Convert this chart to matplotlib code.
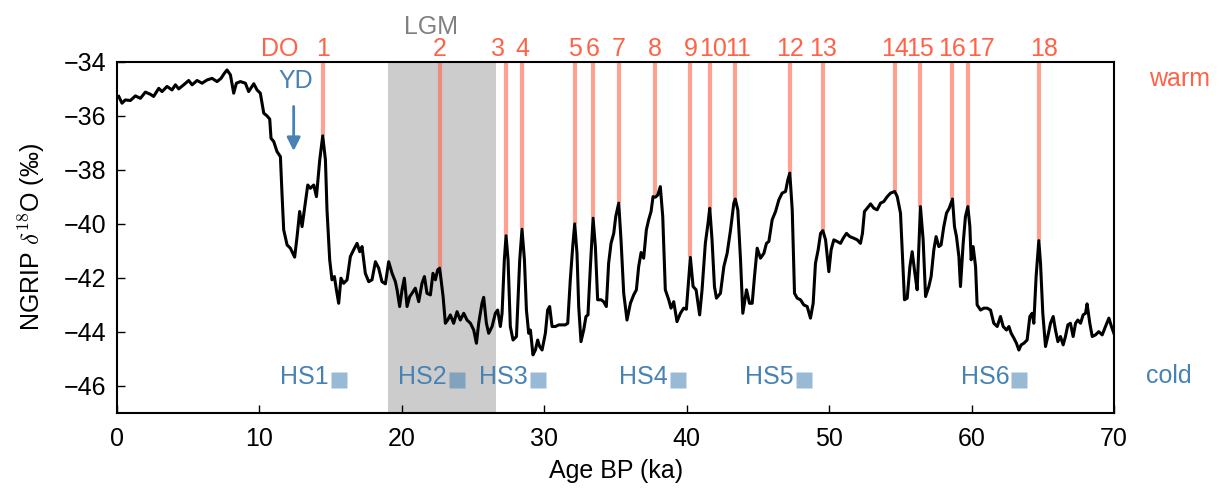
import numpy as np
import matplotlib
matplotlib.use('Agg')
import matplotlib.pyplot as plt
import matplotlib.transforms as mtransforms

plt.rcParams['font.family'] = ['Liberation Sans', 'DejaVu Sans']
plt.rcParams['mathtext.fontset'] = 'cm'
plt.rcParams['font.size'] = 18

# NGRIP d18O record (age in ka, value in permil)
age = [0.12, 0.35, 0.58, 0.94, 1.29, 1.64, 1.99, 2.34, 2.57, 2.93, 3.16, 3.51, 3.86, 4.10,
       4.33, 4.68, 5.03, 5.27, 5.62, 5.97, 6.32, 6.67, 7.02, 7.30, 7.54, 7.72, 7.96, 8.19,
       8.38, 8.66, 9.01, 9.24, 9.60, 9.83, 10.06, 10.30, 10.53, 10.72, 10.81, 11.00, 11.23,
       11.47, 11.58, 11.70, 11.94, 12.17, 12.47, 12.64, 12.82, 12.99, 13.22, 13.39, 13.57,
       13.81, 14.00, 14.23, 14.44, 14.63, 14.74, 14.93, 15.09, 15.26, 15.40, 15.56, 15.72,
       15.91, 16.15, 16.38, 16.61, 16.85, 17.04, 17.20, 17.43, 17.67, 17.90, 18.14, 18.37,
       18.60, 18.84, 19.07, 19.31, 19.54, 19.66, 19.84, 20.01, 20.17, 20.36, 20.55, 20.71,
       20.94, 21.18, 21.41, 21.58, 21.76, 22.00, 22.18, 22.35, 22.51, 22.65, 22.89, 23.05,
       23.21, 23.40, 23.63, 23.87, 24.10, 24.34, 24.57, 24.81, 25.04, 25.23, 25.39, 25.62,
       25.74, 25.93, 26.09, 26.33, 26.56, 26.72, 26.91, 27.03, 27.19, 27.31, 27.45, 27.61,
       27.80, 28.04, 28.27, 28.43, 28.60, 28.74, 28.90, 29.02, 29.20, 29.37, 29.53, 29.67,
       29.84, 30.07, 30.23, 30.37, 30.54, 30.77, 31.01, 31.24, 31.47, 31.64, 31.82, 31.99,
       32.13, 32.29, 32.41, 32.57, 32.76, 32.92, 33.06, 33.23, 33.42, 33.58, 33.74, 33.98,
       34.16, 34.35, 34.51, 34.68, 34.87, 35.01, 35.22, 35.38, 35.57, 35.80, 36.04, 36.27,
       36.46, 36.62, 36.79, 36.97, 37.16, 37.32, 37.49, 37.63, 37.79, 37.96, 38.14, 38.31,
       38.49, 38.73, 38.89, 39.08, 39.31, 39.55, 39.78, 39.97, 40.13, 40.25, 40.44, 40.65,
       40.90, 41.07, 41.30, 41.49, 41.61, 41.77, 41.94, 42.08, 42.36, 42.60, 42.83, 43.07,
       43.30, 43.40, 43.58, 43.77, 43.93, 44.19, 44.40, 44.59, 44.75, 44.94, 45.17, 45.41,
       45.59, 45.76, 45.99, 46.23, 46.46, 46.69, 46.93, 47.09, 47.23, 47.40, 47.56, 47.75,
       47.98, 48.21, 48.45, 48.68, 48.87, 49.03, 49.22, 49.39, 49.55, 49.74, 49.97, 50.13,
       50.32, 50.55, 50.79, 50.98, 51.21, 51.44, 51.72, 51.96, 52.19, 52.33, 52.47, 52.66,
       52.90, 53.13, 53.36, 53.60, 53.83, 54.07, 54.30, 54.60, 54.77, 55.00, 55.12, 55.28,
       55.47, 55.66, 55.82, 56.01, 56.17, 56.29, 56.40, 56.59, 56.76, 56.99, 57.15, 57.34,
       57.50, 57.69, 57.85, 58.04, 58.23, 58.42, 58.65, 58.79, 58.93, 59.10, 59.21, 59.40,
       59.56, 59.73, 59.87, 59.96, 60.10, 60.27, 60.38, 60.62, 60.85, 61.08, 61.32, 61.55,
       61.79, 62.02, 62.21, 62.44, 62.61, 62.77, 62.96, 63.14, 63.31, 63.47, 63.66, 63.89,
       64.08, 64.24, 64.36, 64.52, 64.71, 64.83, 64.99, 65.18, 65.34, 65.53, 65.72, 65.88,
       66.05, 66.23, 66.42, 66.58, 66.75, 66.93, 67.12, 67.29, 67.45, 67.64, 67.82, 67.99,
       68.10, 68.29, 68.46, 68.69, 68.92, 69.16, 69.39, 69.63, 69.81, 69.98]
d18o = [-35.28, -35.53, -35.41, -35.43, -35.26, -35.35, -35.12, -35.20, -35.28, -34.98, -35.10,
        -34.91, -35.04, -34.85, -35.00, -34.85, -34.69, -34.85, -34.69, -34.79, -34.67, -34.61,
        -34.73, -34.61, -34.42, -34.30, -34.48, -35.16, -34.79, -34.73, -34.79, -35.10, -34.81,
        -35.04, -35.16, -35.90, -36.00, -36.12, -36.83, -36.95, -37.32, -37.51, -38.86, -40.22,
        -40.78, -40.90, -41.23, -40.47, -39.54, -40.10, -39.23, -38.56, -38.68, -38.56, -38.99,
        -37.63, -36.74, -37.63, -39.48, -41.33, -42.07, -41.95, -42.44, -42.94, -42.01, -42.20,
        -42.07, -41.21, -40.96, -40.72, -41.03, -40.84, -41.83, -42.14, -42.07, -41.40, -41.64,
        -42.14, -42.22, -41.40, -41.83, -42.14, -42.44, -43.06, -42.44, -42.01, -43.06, -42.69,
        -42.57, -42.38, -42.88, -42.20, -41.95, -42.57, -42.63, -41.83, -42.07, -41.70, -41.64,
        -42.69, -43.68, -43.56, -43.37, -43.68, -43.25, -43.56, -43.31, -43.56, -43.68, -43.93,
        -44.42, -43.68, -42.94, -42.72, -43.68, -44.05, -43.80, -43.31, -43.19, -43.80, -43.31,
        -41.33, -40.44, -41.33, -43.80, -44.30, -44.17, -41.33, -40.20, -41.33, -43.19, -44.05,
        -43.93, -44.85, -44.67, -44.30, -44.54, -44.67, -44.05, -43.19, -43.06, -43.80, -43.80,
        -43.74, -43.74, -43.74, -43.68, -42.07, -40.84, -40.00, -41.09, -43.06, -44.36, -43.93,
        -43.43, -43.37, -41.58, -39.79, -40.84, -42.81, -42.81, -42.88, -43.06, -41.46, -40.72,
        -40.35, -39.73, -39.23, -40.59, -42.57, -43.56, -42.94, -42.63, -42.44, -41.58, -41.06,
        -41.27, -40.22, -39.85, -39.54, -38.99, -39.01, -38.93, -38.62, -39.73, -42.44, -42.81,
        -43.12, -42.88, -43.62, -43.31, -43.12, -43.16, -42.07, -41.24, -42.32, -42.44, -43.37,
        -42.44, -40.72, -39.97, -39.42, -40.59, -42.32, -42.75, -42.57, -41.58, -41.09, -40.22,
        -39.23, -39.08, -39.48, -41.33, -43.31, -42.44, -42.94, -42.94, -41.95, -40.90, -41.27,
        -41.09, -40.72, -40.65, -39.85, -39.54, -39.11, -38.86, -38.80, -38.37, -38.12, -39.48,
        -42.57, -42.75, -42.81, -43.00, -43.06, -43.49, -42.94, -41.46, -40.96, -40.35, -40.25,
        -40.59, -41.77, -40.96, -40.59, -40.65, -40.72, -40.53, -40.35, -40.47, -40.53, -40.59,
        -40.72, -40.35, -39.54, -39.42, -39.26, -39.42, -39.48, -39.23, -39.17, -38.99, -38.86,
        -38.80, -38.99, -39.60, -40.96, -42.81, -42.75, -41.58, -41.03, -41.83, -42.44, -40.84,
        -39.36, -40.59, -42.69, -42.32, -41.95, -40.96, -40.47, -40.84, -40.78, -40.10, -39.60,
        -39.42, -39.08, -40.10, -40.47, -41.21, -42.32, -40.72, -39.73, -39.36, -40.10, -41.33,
        -40.84, -41.58, -43.00, -43.19, -43.12, -43.12, -43.19, -43.68, -43.80, -43.43, -43.80,
        -43.93, -43.80, -44.05, -44.23, -44.42, -44.67, -44.48, -44.42, -44.30, -43.43, -43.31,
        -43.68, -41.95, -40.62, -41.46, -43.31, -44.54, -44.17, -43.68, -43.43, -43.93, -44.36,
        -44.17, -44.48, -44.17, -43.74, -43.68, -44.17, -43.68, -43.56, -43.68, -43.37, -43.31,
        -42.96, -43.68, -44.17, -44.11, -43.99, -44.11, -43.80, -43.49, -43.80, -44.05]

# Dansgaard-Oeschger events: onset age and peak value
do_num = [str(i) for i in range(1, 19)]
do_age = [14.44, 22.65, 27.31, 28.43, 32.13, 33.42, 35.22, 37.77, 40.25, 41.61,
          43.37, 47.23, 49.55, 54.60, 56.40, 58.65, 59.73, 64.71]
do_peak = [-36.74, -41.64, -40.44, -40.20, -40.00, -39.79, -39.23, -38.93, -41.24, -39.42,
           -39.08, -38.12, -40.25, -38.80, -39.36, -39.08, -39.36, -40.62]
do_label_shift = {'3': -0.55, '10': 0.2, '11': 0.25, '17': 0.9, '18': 0.35}

# Heinrich stadials
hs_name = ['HS1', 'HS2', 'HS3', 'HS4', 'HS5', 'HS6']
hs_age = [15.56, 23.85, 29.54, 39.35, 48.23, 63.33]

lgm = (19.0, 26.6)

TOMATO = 'tomato'
BLUE = 'steelblue'

fig = plt.figure(figsize=(12.19, 4.91), dpi=100)
ax = fig.add_axes([0.096, 0.159, 0.818, 0.715])

ax.axvspan(lgm[0], lgm[1], color='0.8', lw=0, zorder=0)
ax.vlines(do_age, do_peak, -34, colors=TOMATO, alpha=0.6, lw=3, zorder=1)
ax.plot(age, d18o, color='k', lw=2.2, zorder=3)
ax.plot(hs_age, [-45.78] * len(hs_age), 's', color=BLUE, alpha=0.55, ms=12,
        mec='none', zorder=2)
for name, a in zip(hs_name, hs_age):
    ax.text(a - 0.7, -45.68, name, color=BLUE, ha='right', va='center')

trans = mtransforms.blended_transform_factory(ax.transData, ax.transAxes)
for n, a in zip(do_num, do_age):
    ax.text(a + do_label_shift.get(n, 0), 1.036, n, color=TOMATO, ha='center',
            va='center', transform=trans, clip_on=False)
ax.text(11.45, 1.036, 'DO', color=TOMATO, ha='center', va='center', transform=trans)
ax.text(22.05, 1.1, 'LGM', color='0.5', ha='center', va='center', transform=trans)

ax.text(12.52, -34.72, 'YD', color=BLUE, ha='center', va='center')
ax.annotate('', xy=(12.4, -37.3), xytext=(12.4, -35.65),
            arrowprops=dict(arrowstyle='-|>', color=BLUE, lw=2, mutation_scale=20,
                            shrinkA=0, shrinkB=0))

ax.text(1.066, 0.95, 'warm', color=TOMATO, ha='center', va='center', transform=ax.transAxes)
ax.text(1.055, 0.105, 'cold', color=BLUE, ha='center', va='center', transform=ax.transAxes)

ax.set_xlim(0, 70)
ax.set_ylim(-47, -34)
ax.set_xticks(np.arange(0, 71, 10))
ax.set_yticks(np.arange(-46, -33, 2))
ax.tick_params(direction='in', length=6, width=1, top=False, right=False)
ax.tick_params(axis='y', pad=8)
ax.tick_params(axis='x', pad=10)
for s in ax.spines.values():
    s.set_linewidth(1.5)
ax.set_xlabel('Age BP (ka)', labelpad=6)
ax.set_ylabel(r'NGRIP $\delta^{18}$O (‰)', labelpad=12)

fig.savefig('out.png', dpi=100)
